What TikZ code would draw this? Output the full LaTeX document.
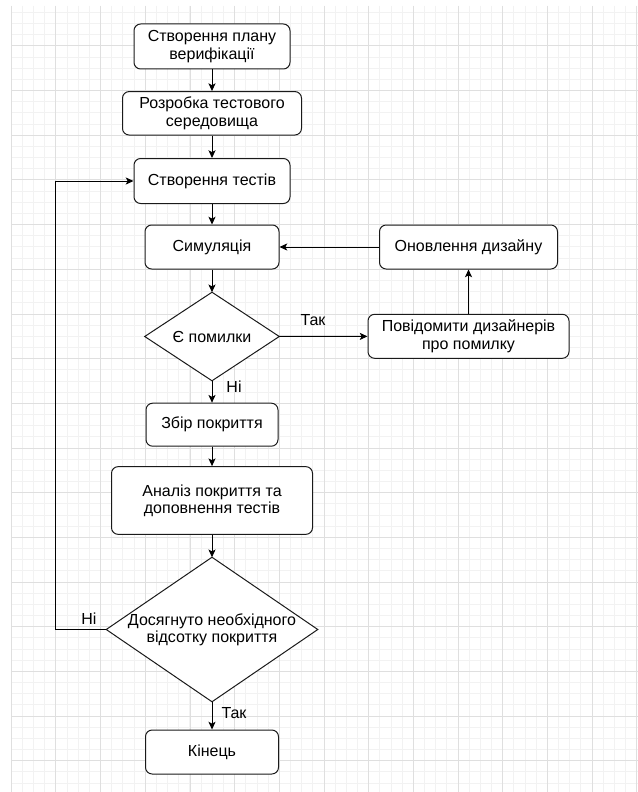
\documentclass[tikz,border=0pt]{standalone}
\usepackage{fontspec}
\setmainfont{Liberation Sans}
\usetikzlibrary{arrows.meta,shapes.geometric}
\definecolor{gminor}{HTML}{F2F2F2}
\definecolor{gmajor}{HTML}{DFDFDF}
\definecolor{edgec}{HTML}{1A1A1A}
\begin{document}
\begin{tikzpicture}[x=0.75pt,y=-0.75pt,
  txt/.style={font=\fontsize{12}{13}\selectfont, text=black},
  box/.style={txt, draw=edgec, line width=0.75pt, rounded corners=5pt, align=center, inner sep=0pt, fill=white},
  decbox/.style={txt, align=center, inner sep=0pt},
  decline/.style={draw=edgec, line width=0.75pt, fill=white},
  lbl/.style={txt, inner sep=0pt},
  arr/.style={draw=black, line width=0.75pt, -{Stealth[length=5.8pt,width=5.3pt,inset=1.4pt]}},
  minorln/.style={draw=gminor, line width=0.75pt},
  majorln/.style={draw=gmajor, line width=0.75pt}
]
\useasboundingbox (0,0) rectangle (638,792);
\fill[white] (0,0) rectangle (638,792);
% grid
\foreach \i in {0,...,56}{
  \pgfmathsetmacro{\xx}{11.33+\i*11.1667}
  \draw[minorln] (\xx,6) -- (\xx,792);
}
\foreach \i in {1,...,71}{
  \pgfmathsetmacro{\yy}{1.33+\i*11.1667}
  \draw[minorln] (11.33,\yy) -- (638,\yy);
}
\foreach \i in {0,...,14}{
  \pgfmathsetmacro{\xx}{11.33+\i*44.667}
  \draw[majorln] (\xx,6) -- (\xx,792);
}
\foreach \i in {1,...,17}{
  \pgfmathsetmacro{\yy}{1.33+\i*44.667}
  \draw[majorln] (11.33,\yy) -- (638,\yy);
}
% diamonds (outline drawn from the anchors of an invisible box)
\node[decbox, minimum width=100.5pt, minimum height=66pt] (d1) at (212,336.5) {};
\draw[decline] (d1.north) -- (d1.east) -- (d1.south) -- (d1.west) -- cycle;
\node[lbl] (d1t) at (d1.center) {Є помилки};
\node[decbox, minimum width=158.25pt, minimum height=108pt] (d2) at (212,629.5) {};
\draw[decline] (d2.north) -- (d2.east) -- (d2.south) -- (d2.west) -- cycle;
\node[lbl, align=center] (d2t) at (d2.center) {Досягнуто необхідного\\відсотку покриття};
% boxes
\node[box, minimum width=117pt, minimum height=33.75pt] (b1) at (212,46.5) {Створення плану\\верифікації};
\node[box, minimum width=134.25pt, minimum height=32.6pt] (b2) at (212,113.3) {Розробка тестового\\середовища};
\node[box, minimum width=117pt, minimum height=33.75pt] (b3) at (212,181) {Створення тестів};
\node[box, minimum width=100.5pt, minimum height=33pt] (sim) at (212,247) {Симуляція};
\node[box, minimum width=133.5pt, minimum height=33pt] (upd) at (468.5,247) {Оновлення дизайну};
\node[box, minimum width=150.75pt, minimum height=33pt] (ntf) at (468.5,336.3) {Повідомити дизайнерів\\про помилку};
\node[box, minimum width=99pt, minimum height=32.25pt] (cov) at (212,424.7) {Збір покриття};
\node[box, minimum width=150.75pt, minimum height=50.8pt] (anl) at (212,500.5) {Аналіз покриття та\\доповнення тестів};
\node[box, minimum width=99.75pt, minimum height=33pt] (fin) at (212,752) {Кінець};
% labels
\node[lbl] (l1) at (313,320) {Так};
\node[lbl] (l2) at (234,387) {Ні};
\node[lbl] (l3) at (89,619) {Ні};
\node[lbl] (l4) at (234,713) {Так};
\coordinate (lp) at (55.7,629.5);
% edges
\draw[arr] (b1) -- (b2);
\draw[arr] (b2) -- (b3);
\draw[arr] (b3) -- (sim);
\draw[arr] (sim) -- (d1);
\draw[arr] (d1) -- (ntf);
\draw[arr] (ntf) -- (upd);
\draw[arr] (upd) -- (sim);
\draw[arr] (d1) -- (cov);
\draw[arr] (cov) -- (anl);
\draw[arr] (anl) -- (d2);
\draw[arr] (d2) -- (fin);
\draw[arr] (d2.west) -- (lp) |- (b3.west);
\end{tikzpicture}
\end{document}
